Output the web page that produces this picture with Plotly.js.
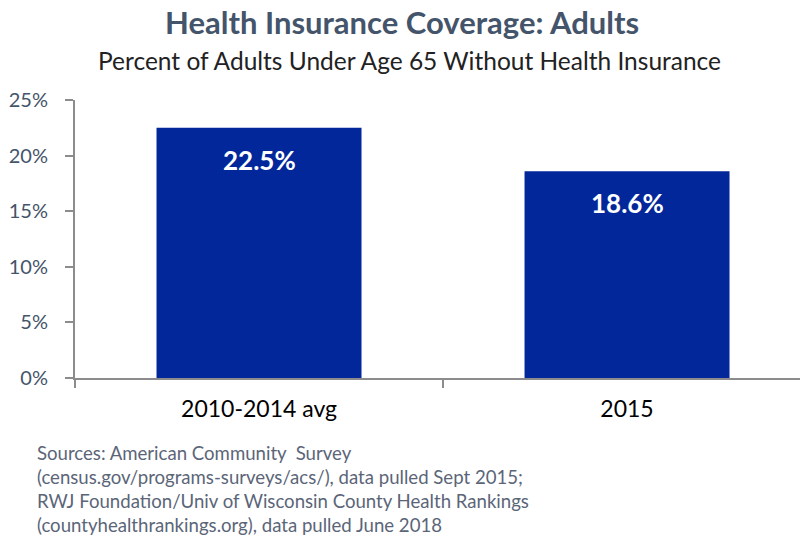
<!DOCTYPE html>
<html>
<head>
<meta charset="utf-8">
<script src="https://cdn.plot.ly/plotly-3.0.1.min.js"></script>
<style>html,body{margin:0;padding:0;background:#fff;}#chart{width:802px;height:541px;}</style>
</head>
<body>
<div id="chart"></div>
<script>
const categories = ["2010-2014 avg", "2015"];
const values = [22.5, 18.6];
const yTickVals = [0, 5, 10, 15, 20, 25];
const yTickText = ["0%", "5%", "10%", "15%", "20%", "25%"];
const titleText = "Health Insurance Coverage: Adults";
const subtitleText = "Percent of Adults Under Age 65 Without Health Insurance";
const sourceLines = [
  "Sources: American Community  Survey",
  "(census.gov/programs-surveys/acs/), data pulled Sept 2015;",
  "RWJ Foundation/Univ of Wisconsin County Health Rankings",
  "(countyhealthrankings.org), data pulled June 2018"
];

const FONT = "Lato, 'Open Sans', sans-serif";
const W = 802, H = 541;
const L = 75, R = 2, T = 100, B = 163;
const plotW = W - L - R, plotH = H - T - B;
function px(xpix){ return (xpix - L) / plotW; }
function py(ypix){ return (H - B - ypix) / plotH; }

const trace = {
  type: "bar",
  x: categories,
  y: values,
  width: 0.557,
  marker: {color: "#02279A"},
  hoverinfo: "skip"
};

const annotations = categories.map((c, i) => ({
  x: i, y: values[i], xref: "x", yref: "y",
  text: "<b>" + values[i].toFixed(1) + "%</b>",
  showarrow: false, yanchor: "middle", yshift: -32,
  font: {family: FONT, size: 26, color: "#ffffff"}
}));

annotations.push({
  xref: "paper", yref: "paper", x: px(402), y: py(22), xanchor: "center", yanchor: "middle",
  text: "<b>" + titleText + "</b>", showarrow: false,
  font: {family: FONT, size: 31, color: "#44546A"}
});
annotations.push({
  xref: "paper", yref: "paper", x: px(409), y: py(60), xanchor: "center", yanchor: "middle",
  text: subtitleText, showarrow: false,
  font: {family: FONT, size: 24.5, color: "#222222"}
});
sourceLines.forEach((s, i) => {
  annotations.push({
    xref: "paper", yref: "paper", x: px(35), y: py(453 + i * 24), xanchor: "left", yanchor: "middle",
    text: s, showarrow: false,
    font: {family: FONT, size: 18.6, color: "#5B6578"}
  });
});

const layout = {
  width: W, height: H,
  margin: {l: L, r: R, t: T, b: B, pad: 0},
  paper_bgcolor: "#ffffff", plot_bgcolor: "#ffffff",
  showlegend: false,
  font: {family: FONT},
  xaxis: {
    type: "category",
    range: [-0.5, 1.47],
    showgrid: false, zeroline: false,
    showline: true, linecolor: "#8C8C8C", linewidth: 2,
    ticks: "outside", tickson: "boundaries", ticklen: 8, tickwidth: 2, tickcolor: "#8C8C8C",
    ticklabelstandoff: 9,
    tickfont: {family: FONT, size: 23, color: "#000000"},
    fixedrange: true
  },
  yaxis: {
    range: [0, 25],
    tickvals: yTickVals, ticktext: yTickText,
    showgrid: false, zeroline: false,
    showline: true, linecolor: "#8C8C8C", linewidth: 2,
    ticks: "outside", ticklen: 8, tickwidth: 2, tickcolor: "#8C8C8C",
    ticklabelstandoff: 13,
    tickfont: {family: FONT, size: 20, color: "#44546A"},
    fixedrange: true
  },
  annotations: annotations
};

Plotly.newPlot("chart", [trace], layout, {displayModeBar: false, staticPlot: true});
</script>
</body>
</html>
